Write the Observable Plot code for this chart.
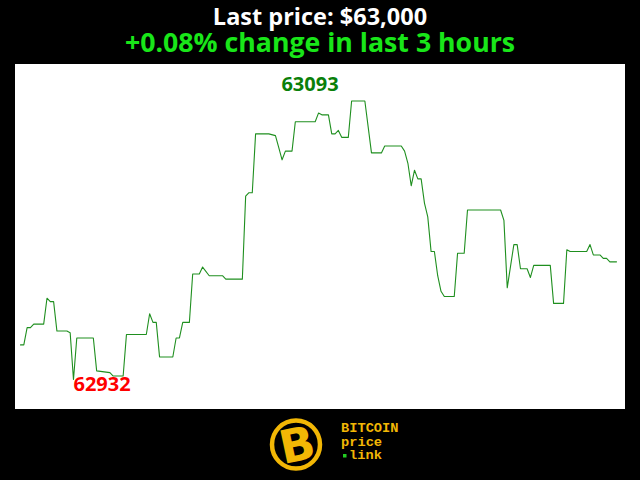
<!DOCTYPE html>
<html>
<head>
<meta charset="utf-8">
<script src="https://cdn.jsdelivr.net/npm/d3@7"></script>
<script src="https://cdn.jsdelivr.net/npm/@observablehq/plot@0.6"></script>
<style>
  html, body { margin: 0; padding: 0; background: #000; }
  #wrap { position: relative; width: 640px; height: 480px; background: #000; overflow: hidden; }
  .t { position: absolute; left: 0; width: 640px; text-align: center; font-family: "Open Sans", sans-serif; font-weight: bold; white-space: nowrap; line-height: 1; }
  #title { top: 4.5px; font-size: 23.5px; color: #fff; }
  #subtitle { top: 28.6px; font-size: 26.7px; color: #19e619; }
  #chart { position: absolute; left: 15px; top: 64px; }
  #logo { position: absolute; left: 0; top: 405px; }
</style>
</head>
<body>
<div id="wrap">
  <div id="title" class="t"></div>
  <div id="subtitle" class="t"></div>
  <div id="chart"></div>
  <svg id="logo" width="640" height="75">
    <circle cx="296" cy="39.5" r="24" fill="none" stroke="#f2b705" stroke-width="4.5"></circle>
    <text x="297" y="56" text-anchor="middle" font-family="DejaVu Sans" font-weight="bold" font-size="46" fill="#f2b705" transform="rotate(-12 297 40)">B</text>
    <text x="341" y="27" font-family="Liberation Mono" font-weight="bold" font-size="13.7" fill="#f2b705">BITCOIN</text>
    <text x="341" y="40.5" font-family="Liberation Mono" font-weight="bold" font-size="13.7" fill="#f2b705">price</text>
    <rect x="343" y="49" width="3.5" height="3.5" fill="#22cc22"></rect>
    <text x="349" y="54" font-family="Liberation Mono" font-weight="bold" font-size="13.7" fill="#f2b705">link</text>
  </svg>
</div>
<script>
const titleText = "Last price: $63,000";
const subtitleText = "+0.08% change in last 3 hours";

// minutes since start of the 3-hour window
const minutes = [0,1,2,3,4,7,8,9,10,11,14,15,16,17,22,23,27,28,31,32,38,39,40,41,42,46,47,48,49,51,52,54,55,57,61,62,67,68,69,70,71,75,77,78,79,80,82,83,89,90,91,93,94,95,96,97,99,100,104,106,109,110,115,116,117,118,119,120,121,122,123,124,125,126,127,128,131,132,134,135,145,146,147,149,150,151,153,154,155,160,161,164,165,166,171,172,173,175,176,177,178,180];
// BTC price (USD)
const prices = [62952,62952,62962,62962,62964,62964,62979,62977,62977,62960,62960,62959,62932,62956,62956,62937,62936,62934,62934,62958,62958,62970,62965,62965,62945,62945,62956,62956,62965,62965,62993,62993,62997,62992,62992,62990,62990,63038,63040,63040,63074,63074,63073,63066,63059,63064,63064,63081,63081,63086,63085,63085,63074,63074,63076,63072,63072,63093,63093,63063,63063,63067,63067,63064,63057,63044,63053,63048,63048,63034,63026,63006,63006,62992,62983,62980,62980,63005,63005,63030,63030,63024,62985,63010,63010,62996,62996,62991,62998,62998,62976,62976,63007,63006,63006,63010,63004,63004,63002,63002,63000,63000];

document.getElementById("title").textContent = titleText;
document.getElementById("subtitle").textContent = subtitleText;

const data = minutes.map((m, i) => ({m, p: prices[i]}));
const maxD = data.reduce((a, b) => b.p > a.p ? b : a);
const minD = data.reduce((a, b) => b.p < a.p ? b : a);

const chart = Plot.plot({
  width: 610,
  height: 345,
  marginTop: 0, marginBottom: 0, marginLeft: 0, marginRight: 0,
  style: {background: "#fff", overflow: "visible"},
  x: {domain: [0, 180], insetLeft: 5, insetRight: 9, axis: null},
  y: {domain: d3.extent(prices), insetTop: 36.5, insetBottom: 30, axis: null},
  marks: [
    Plot.line(data, {x: "m", y: "p", stroke: "#1f8f1f", strokeWidth: 1.1}),
    Plot.text([maxD], {x: "m", y: "p", text: d => String(d.p), textAnchor: "end", lineAnchor: "bottom", dx: -13, dy: -10,
      fill: "#0a800a", fontSize: 20, fontWeight: "bold", fontFamily: "Open Sans"}),
    Plot.text([minD], {x: "m", y: "p", text: d => String(d.p), textAnchor: "start", lineAnchor: "bottom", dx: 0, dy: 11,
      fill: "#ff0000", fontSize: 20, fontWeight: "bold", fontFamily: "Open Sans"})
  ]
});
document.getElementById("chart").appendChild(chart);
</script>
</body>
</html>
